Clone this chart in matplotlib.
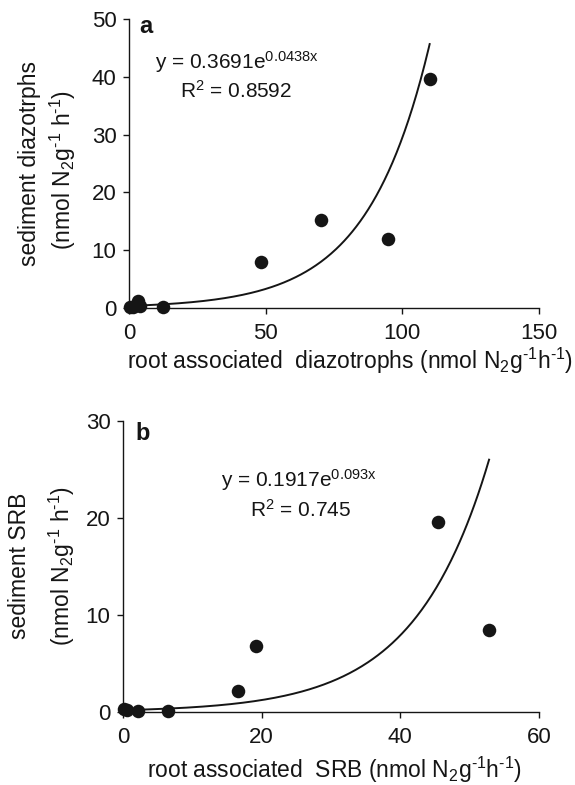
import numpy as np
import matplotlib
matplotlib.use("Agg")
import matplotlib.pyplot as plt

plt.rcParams['font.family'] = ['Liberation Sans', 'DejaVu Sans']
plt.rcParams['mathtext.fontset'] = 'custom'
plt.rcParams['mathtext.rm'] = 'Liberation Sans'
plt.rcParams['mathtext.it'] = 'Liberation Sans'
plt.rcParams['mathtext.bf'] = 'Liberation Sans:bold'

# ---- data ----
# panel a: diazotrophs
root_diaz = [0.3, 1.5, 3.3, 4.0, 12.4, 48.3, 70.3, 94.7, 110.0]
sed_diaz = [0.1, 0.2, 1.2, 0.3, 0.2, 8.0, 15.3, 12.0, 39.7]
fit_a = [0.3691, 0.0438]   # y = a*exp(b*x), printed trendline
r2_a = "0.8592"

# panel b: SRB
root_srb = [0.2, 0.6, 2.2, 6.5, 16.6, 19.2, 45.4, 52.8]
sed_srb = [0.3, 0.2, 0.1, 0.1, 2.2, 6.8, 19.6, 8.5]
fit_b = [0.1917, 0.093]
r2_b = "0.745"

xticks_a = [0, 50, 100, 150]
yticks_a = [0, 10, 20, 30, 40, 50]
xticks_b = [0, 20, 40, 60]
yticks_b = [0, 10, 20, 30]

W, H = 575, 785
fig = plt.figure(figsize=(W / 100, H / 100), dpi=100)
C = '#151515'
FS = 16
FL = 16.5

def fx(px):
    return px / W

def fy(py):
    return 1 - py / H

unit = r"(nmol N$_{\mathregular{2}}$g$^{\mathregular{\text{-}1}}$h$^{\mathregular{\text{-}1}}$)"
unit_y = r"(nmol N$_{\mathregular{2}}$g$^{\mathregular{\text{-}1}}$ h$^{\mathregular{\text{-}1}}$)"

def panel(rect, xs, ys, fit, xt, yt):
    ax = fig.add_axes(rect)
    ax.scatter(xs, ys, s=95, color=C, zorder=3, linewidths=0, clip_on=False)
    xx = np.linspace(0, max(xs), 300)
    ax.plot(xx, fit[0] * np.exp(fit[1] * xx), color=C, lw=1.4, zorder=2)
    ax.set_xlim(xt[0], xt[-1])
    ax.set_ylim(yt[0], yt[-1])
    ax.set_xticks(xt)
    ax.set_yticks(yt)
    for s in ['top', 'right']:
        ax.spines[s].set_visible(False)
    for s in ['left', 'bottom']:
        ax.spines[s].set_linewidth(1.0)
        ax.spines[s].set_color(C)
    ax.tick_params(direction='out', length=4, width=1.0, colors=C,
                   labelsize=FS)
    ax.tick_params(axis='x', pad=7)
    ax.tick_params(axis='y', pad=5)
    return ax

# panel a
ax_a = panel([fx(129), fy(308), fx(539) - fx(129), fy(19) - fy(308)],
             root_diaz, sed_diaz, fit_a, xticks_a, yticks_a)
fig.text(fx(139), fy(33), 'a', fontsize=17, fontweight='bold', color=C,
         va='baseline', ha='left')
fig.text(fx(155), fy(69), r"y = 0.3691e$^{\mathregular{0.0438x}}$", fontsize=15,
         color=C, va='baseline', ha='left')
fig.text(fx(180), fy(98), r"R$^{\mathregular{2}}$ = " + r2_a, fontsize=15,
         color=C, va='baseline', ha='left')
fig.text(fx(127), fy(369), "root associated  diazotrophs " + unit, fontsize=FL,
         color=C, va='baseline', ha='left')
fig.text(fx(30), fy(163), "sediment diazotrphs", fontsize=FL, color=C,
         rotation=90, ha='center', va='center')
fig.text(fx(63), fy(170), unit_y, fontsize=FL, color=C,
         rotation=90, ha='center', va='center')

# panel b
ax_b = panel([fx(123), fy(712), fx(539) - fx(123), fy(421) - fy(712)],
             root_srb, sed_srb, fit_b, xticks_b, yticks_b)
fig.text(fx(135), fy(440), 'b', fontsize=17, fontweight='bold', color=C,
         va='baseline', ha='left')
fig.text(fx(221), fy(487), r"y = 0.1917e$^{\mathregular{0.093x}}$", fontsize=15,
         color=C, va='baseline', ha='left')
fig.text(fx(250), fy(517), r"R$^{\mathregular{2}}$ = " + r2_b, fontsize=15,
         color=C, va='baseline', ha='left')
fig.text(fx(147), fy(778), "root associated  SRB " + unit, fontsize=FL,
         color=C, va='baseline', ha='left')
fig.text(fx(20), fy(566), "sediment SRB", fontsize=FL, color=C,
         rotation=90, ha='center', va='center')
fig.text(fx(62), fy(566), unit_y, fontsize=FL, color=C,
         rotation=90, ha='center', va='center')

fig.savefig('out.png', dpi=100)
